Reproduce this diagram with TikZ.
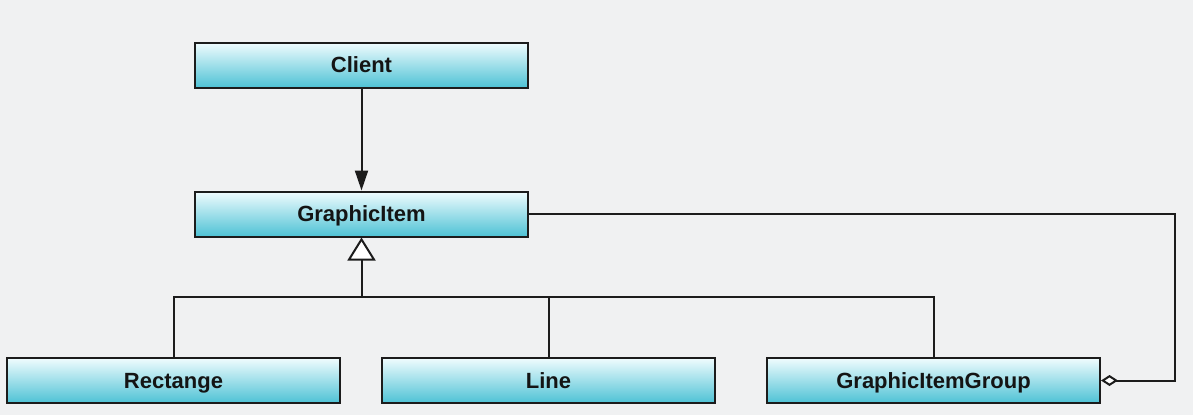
\documentclass[tikz,border=0pt]{standalone}
\usepackage{fontspec}
\setmainfont{Liberation Sans}
\usetikzlibrary{arrows.meta}
\definecolor{bg}{RGB}{240,241,242}
\definecolor{boxtop}{RGB}{240,252,254}
\definecolor{boxbot}{RGB}{78,194,213}
\definecolor{edge}{RGB}{28,28,28}
\tikzset{
  cls/.style={draw=edge, line width=2pt, top color=boxtop, bottom color=boxbot,
    minimum width=333pt, minimum height=45pt, inner sep=0pt,
    text height=15.8pt, text depth=0pt,
    font=\fontsize{22}{26}\selectfont\bfseries, text=black!92},
  conn/.style={draw=edge, line width=2pt},
  assoc/.style={conn, -{Triangle[length=20pt,width=13pt]}},
  inherit/.style={conn, -{Triangle[open,length=23pt,width=28pt,fill=white]}},
  aggr/.style={conn, -{Diamond[open,length=17pt,width=11pt,fill=white]}}
}
\begin{document}
\begin{tikzpicture}[x=1pt,y=-1pt]
\fill[bg] (0,0) rectangle (1193,415);
\useasboundingbox (0,0) rectangle (1193,415);
\node[cls] (client) at (361.5,65) {Client};
\node[cls] (gitem) at (361.5,214) {GraphicItem};
\node[cls] (rect) at (173.5,380.5) {Rectange};
\node[cls] (line) at (548.5,380.5) {Line};
\node[cls] (group) at (933.5,380.5) {GraphicItemGroup};
\coordinate (bus) at (361.5,297);
\coordinate (corner) at (1175,214);
\draw[assoc] (client.south) -- (gitem.north);
\draw[inherit] (bus) -- (gitem.south);
\draw[conn] (rect.north) |- (bus) -| (group.north);
\draw[conn] (line.north) -- (line.north |- bus);
\draw[aggr] (gitem.east) -- (corner) |- (group.east);
\end{tikzpicture}
\end{document}
